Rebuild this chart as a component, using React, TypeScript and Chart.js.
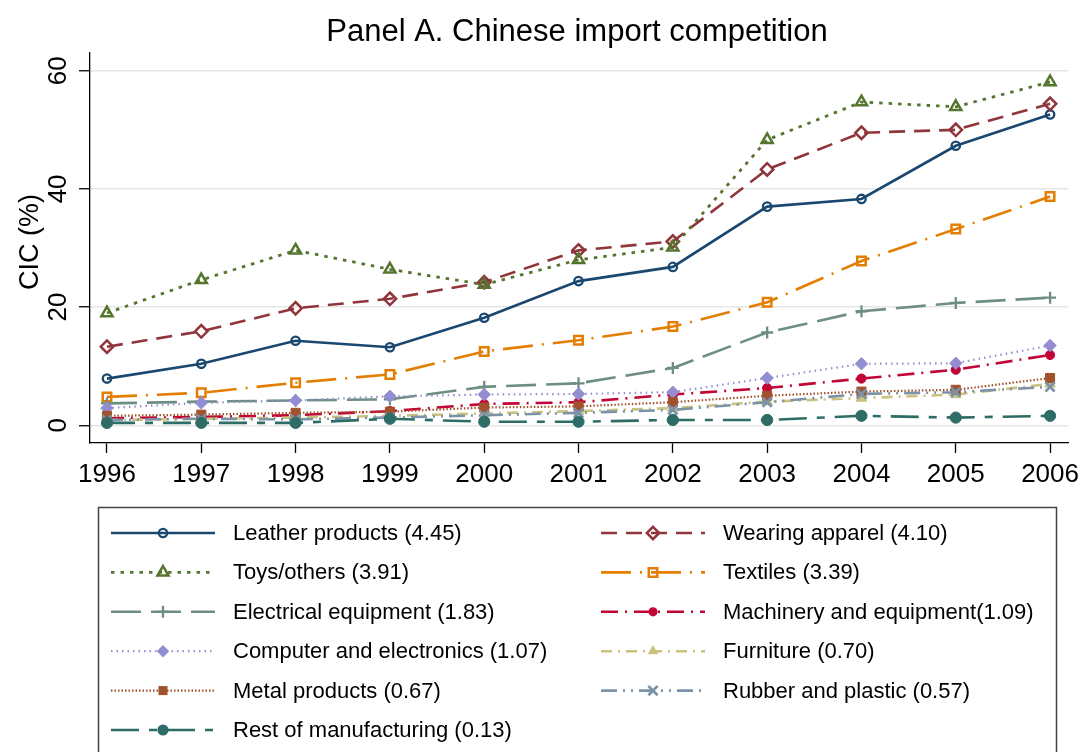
import React, { useEffect, useRef } from 'react';
import { Chart, registerables } from 'chart.js';

Chart.register(...registerables);

const years = [1996, 1997, 1998, 1999, 2000, 2001, 2002, 2003, 2004, 2005, 2006];
const yTicks = [0, 20, 40, 60];

const leather = [7.9, 10.4, 14.3, 13.2, 18.2, 24.4, 26.8, 37.0, 38.3, 47.3, 52.6];
const apparel = [13.3, 15.9, 19.8, 21.4, 24.2, 29.6, 31.1, 43.3, 49.5, 50.0, 54.4];
const toys = [19.0, 24.6, 29.6, 26.4, 23.8, 28.0, 30.1, 48.3, 54.7, 53.9, 58.1];
const textiles = [4.8, 5.5, 7.2, 8.6, 12.5, 14.4, 16.7, 20.8, 27.8, 33.2, 38.7];
const electrical = [3.7, 4.0, 4.2, 4.4, 6.5, 7.1, 9.7, 15.7, 19.3, 20.7, 21.6];
const machinery = [1.2, 1.4, 1.7, 2.4, 3.6, 3.9, 5.2, 6.3, 7.9, 9.4, 11.9];
const computer = [2.9, 3.8, 4.2, 4.9, 5.2, 5.3, 5.6, 8.0, 10.4, 10.5, 13.5];
const furniture = [0.9, 1.1, 1.3, 1.6, 2.0, 2.4, 2.9, 4.0, 4.6, 5.2, 7.0];
const metal = [1.6, 1.8, 2.1, 2.3, 3.0, 3.2, 3.9, 5.0, 5.7, 6.0, 8.0];
const rubber = [0.9, 1.1, 1.0, 1.3, 1.7, 2.1, 2.6, 3.9, 5.3, 5.6, 6.5];
const rest = [0.4, 0.4, 0.4, 1.1, 0.6, 0.6, 0.9, 0.9, 1.6, 1.3, 1.6];

const seriesLabels = [
  'Leather products (4.45)',
  'Wearing apparel (4.10)',
  'Toys/others (3.91)',
  'Textiles (3.39)',
  'Electrical equipment (1.83)',
  'Machinery and equipment(1.09)',
  'Computer and electronics (1.07)',
  'Furniture (0.70)',
  'Metal products (0.67)',
  'Rubber and plastic (0.57)',
  'Rest of manufacturing (0.13)',
];
const seriesValues = [leather, apparel, toys, textiles, electrical, machinery, computer, furniture, metal, rubber, rest];

type Style = {
  color: string;
  dash: number[];
  width: number;
  marker: string;
  radius: number;
  hollow: boolean;
  mw: number;
};

const styles: Style[] = [
  { color: '#1a476f', dash: [], width: 2.6, marker: 'circle', radius: 4.2, hollow: true, mw: 2.3 },
  { color: '#90353b', dash: [16, 9], width: 2.6, marker: 'rectRot', radius: 6.2, hollow: true, mw: 2.5 },
  { color: '#55752f', dash: [3.5, 6], width: 2.8, marker: 'triangle', radius: 6.4, hollow: true, mw: 2.5 },
  { color: '#e37e00', dash: [30, 9, 2, 9], width: 2.6, marker: 'rect', radius: 6, hollow: true, mw: 2.5 },
  { color: '#6e8e84', dash: [30, 10], width: 2.6, marker: 'cross', radius: 6, hollow: true, mw: 2.3 },
  { color: '#c10534', dash: [17, 7, 2, 7], width: 2.6, marker: 'circle', radius: 4.6, hollow: false, mw: 1 },
  { color: '#938dd2', dash: [1.5, 4], width: 2.2, marker: 'rectRot', radius: 6.2, hollow: false, mw: 1 },
  { color: '#cac27e', dash: [11, 6, 2, 6], width: 2.6, marker: 'triangle', radius: 6.2, hollow: false, mw: 1 },
  { color: '#a0522d', dash: [1.5, 2], width: 2.2, marker: 'rect', radius: 6.4, hollow: false, mw: 1 },
  { color: '#7b92a8', dash: [16, 6, 2, 6, 2, 6], width: 2.6, marker: 'crossRot', radius: 6.5, hollow: true, mw: 2.7 },
  { color: '#2d6d66', dash: [28, 10, 8, 10], width: 2.6, marker: 'circle', radius: 5.6, hollow: false, mw: 1 },
];

const FONT = '"Liberation Sans", Arial, sans-serif';

function drawMarker(ctx: CanvasRenderingContext2D, s: Style, x: number, y: number) {
  const r = s.radius;
  ctx.save();
  ctx.setLineDash([]);
  ctx.lineWidth = s.mw;
  ctx.strokeStyle = s.color;
  ctx.fillStyle = s.color;
  ctx.beginPath();
  switch (s.marker) {
    case 'circle':
      ctx.arc(x, y, r, 0, Math.PI * 2);
      break;
    case 'rectRot':
      ctx.moveTo(x, y - r);
      ctx.lineTo(x + r, y);
      ctx.lineTo(x, y + r);
      ctx.lineTo(x - r, y);
      ctx.closePath();
      break;
    case 'triangle': {
      let a = 0;
      ctx.moveTo(x + Math.sin(a) * r, y - Math.cos(a) * r);
      a += (2 * Math.PI) / 3;
      ctx.lineTo(x + Math.sin(a) * r, y - Math.cos(a) * r);
      a += (2 * Math.PI) / 3;
      ctx.lineTo(x + Math.sin(a) * r, y - Math.cos(a) * r);
      ctx.closePath();
      break;
    }
    case 'rect': {
      const h = Math.SQRT1_2 * r;
      ctx.rect(x - h, y - h, 2 * h, 2 * h);
      break;
    }
    case 'cross':
      ctx.moveTo(x, y - r);
      ctx.lineTo(x, y + r);
      ctx.moveTo(x - r, y);
      ctx.lineTo(x + r, y);
      break;
    case 'crossRot': {
      const h = Math.SQRT1_2 * r;
      ctx.moveTo(x - h, y - h);
      ctx.lineTo(x + h, y + h);
      ctx.moveTo(x + h, y - h);
      ctx.lineTo(x - h, y + h);
      break;
    }
  }
  if (!s.hollow && s.marker !== 'cross' && s.marker !== 'crossRot') ctx.fill();
  else ctx.stroke();
  ctx.restore();
}

const textPlugin = {
  id: 'stataText',
  afterDraw(chart: any) {
    const ctx: CanvasRenderingContext2D = chart.ctx;
    const ys = chart.scales.y;
    const xs = chart.scales.x;
    ctx.save();
    ctx.fillStyle = '#000';
    // Title
    ctx.font = `31px ${FONT}`;
    ctx.textAlign = 'center';
    ctx.textBaseline = 'alphabetic';
    ctx.fillText('Panel A. Chinese import competition', 577, 41);
    // Y tick labels (rotated)
    ctx.font = `26px ${FONT}`;
    yTicks.forEach((v) => {
      const py = ys.getPixelForValue(v);
      ctx.save();
      ctx.translate(66, py);
      ctx.rotate(-Math.PI / 2);
      ctx.textAlign = 'center';
      ctx.fillText(String(v), 0, 0);
      ctx.restore();
    });
    // Y title
    ctx.save();
    ctx.translate(38, 242);
    ctx.rotate(-Math.PI / 2);
    ctx.textAlign = 'center';
    ctx.font = `27px ${FONT}`;
    ctx.fillText('CIC (%)', 0, 0);
    ctx.restore();
    // X tick labels
    ctx.font = `26px ${FONT}`;
    ctx.textAlign = 'center';
    years.forEach((yr) => {
      ctx.fillText(String(yr), xs.getPixelForValue(yr), 482);
    });
    // Legend box
    ctx.strokeStyle = '#444';
    ctx.lineWidth = 1.5;
    ctx.strokeRect(98.5, 507.5, 958, 320);
    ctx.font = `22px ${FONT}`;
    ctx.textAlign = 'left';
    ctx.textBaseline = 'middle';
    seriesLabels.forEach((label, i) => {
      const col = i % 2;
      const row = Math.floor(i / 2);
      const y = 533 + row * 39.4;
      const x1 = col ? 601 : 111;
      const x2 = col ? 705 : 215;
      const tx = col ? 723 : 233;
      const s = styles[i];
      ctx.save();
      ctx.strokeStyle = s.color;
      ctx.lineWidth = s.width;
      ctx.setLineDash(s.dash);
      ctx.beginPath();
      ctx.moveTo(x1, y);
      ctx.lineTo(x2, y);
      ctx.stroke();
      ctx.restore();
      drawMarker(ctx, s, (x1 + x2) / 2, y);
      ctx.fillStyle = '#000';
      ctx.fillText(label, tx, y + 1);
    });
    ctx.restore();
  },
};

export default function App() {
  const ref = useRef<HTMLCanvasElement | null>(null);
  useEffect(() => {
    if (!ref.current) return;
    const datasets = seriesValues.map((vals, i) => {
      const s = styles[i];
      return {
        label: seriesLabels[i],
        data: years.map((yr, j) => ({ x: yr, y: vals[j] })),
        borderColor: s.color,
        borderWidth: s.width,
        borderDash: s.dash,
        pointStyle: s.marker,
        pointRadius: s.radius,
        pointBorderWidth: s.mw,
        pointBorderColor: s.color,
        pointBackgroundColor: s.hollow ? 'rgba(0,0,0,0)' : s.color,
        fill: false,
        tension: 0,
        order: seriesValues.length - i,
      };
    });
    const chart = new Chart(ref.current, {
      type: 'line',
      data: { datasets },
      plugins: [textPlugin],
      options: {
        animation: false,
        responsive: false,
        maintainAspectRatio: false,
        events: [],
        layout: { padding: { left: 0, right: 17, top: 53, bottom: 0 } },
        plugins: { legend: { display: false }, tooltip: { enabled: false }, title: { display: false } },
        scales: {
          x: {
            type: 'linear',
            min: 1995.82,
            max: 2006.19,
            afterBuildTicks: (s: any) => {
              s.ticks = years.map((v) => ({ value: v }));
            },
            afterFit: (s: any) => {
              s.height = 309;
            },
            ticks: { display: false },
            grid: {
              display: true,
              drawOnChartArea: false,
              drawTicks: true,
              tickLength: 10,
              tickColor: '#000',
              tickWidth: 1.3,
            },
            border: { display: true, color: '#000', width: 1.3 },
          },
          y: {
            type: 'linear',
            min: -3,
            max: 63,
            afterBuildTicks: (s: any) => {
              s.ticks = yTicks.map((v) => ({ value: v }));
            },
            afterFit: (s: any) => {
              s.width = 90;
            },
            ticks: { display: false },
            grid: {
              display: true,
              drawOnChartArea: true,
              drawTicks: true,
              tickLength: 11,
              color: '#e6e6e6',
              lineWidth: 1.5,
              tickColor: '#000',
              tickWidth: 1.3,
            },
            border: { display: true, color: '#000', width: 1.3 },
          },
        },
      } as any,
    });
    return () => chart.destroy();
  }, []);
  return (
    <div style={{ position: 'fixed', left: 0, top: 0, width: 1085, height: 752, background: '#fff' }}>
      <canvas ref={ref} width={1085} height={752} style={{ display: 'block', width: 1085, height: 752 }} />
    </div>
  );
}
